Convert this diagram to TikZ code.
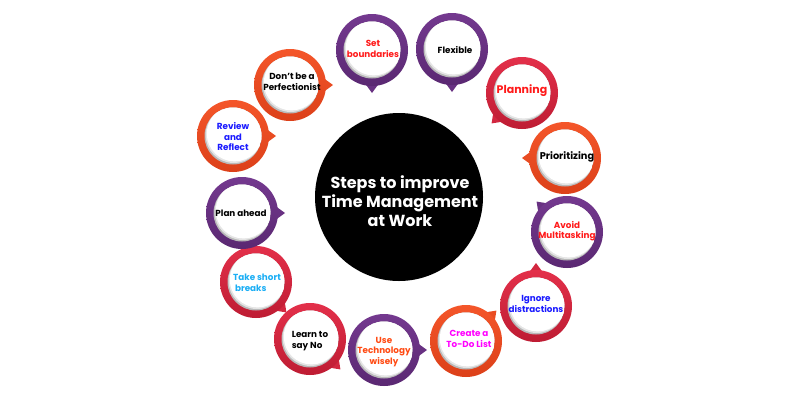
\documentclass[tikz,border=0pt]{standalone}
\usepackage{fontspec}
\setmainfont{Poppins}
\usetikzlibrary{calc}
\definecolor{corange}{HTML}{F4562A}
\definecolor{corangeD}{HTML}{DC4019}
\definecolor{cpurple}{HTML}{74398F}
\definecolor{cpurpleD}{HTML}{5A2872}
\definecolor{cred}{HTML}{E3304A}
\definecolor{credD}{HTML}{BE1C33}
\definecolor{tred}{HTML}{FF1A1A}
\definecolor{tblue}{HTML}{1A1AFF}
\definecolor{tmag}{HTML}{FF00FF}
\definecolor{tor}{HTML}{FF4A12}
\definecolor{tsky}{HTML}{1AAEF5}
\newcommand\mybubble[4]{%
  \coordinate (#1) at (#2);
  \fill[#3!55!#3D] ($(#1)+(#4-14:33)$) -- ($(#1)+(#4:43)$) -- ($(#1)+(#4+14:33)$) -- cycle;
  \shade[top color=#3, bottom color=#3D] (#1) circle[radius=36];
  \fill[gray!55] (#1) circle[radius=28.5];
  \begin{scope}
    \clip (#1) circle[radius=28.5];
    \fill[gray!20] ($(#1)+(0.8,-1.2)$) circle[radius=28.2];
    \fill[white] ($(#1)+(1.6,-2.4)$) circle[radius=27.8];
  \end{scope}
}
\tikzset{
  lbl/.style={align=center, inner sep=0pt, font=\bfseries\fontsize{8.8}{10.5}\selectfont},
  lblbig/.style={lbl, font=\bfseries\fontsize{11}{13}\selectfont},
  lblmid/.style={lbl, font=\bfseries\fontsize{9.8}{12}\selectfont},
  hub/.style={align=center, inner sep=0pt, text=white, font=\bfseries\fontsize{16}{19}\selectfont}
}
\begin{document}
\begin{tikzpicture}[x=1pt,y=-1pt]
\fill[white] (0,0) rectangle (800,400);
\useasboundingbox (0,0) rectangle (800,400);
% centre
\coordinate (cc) at (399,197);
\fill[black] (cc) circle[radius=84];
\node[hub] (hubtext) at (400,201) {Steps to improve\\Time Management\\at Work};
% bubbles
\mybubble{perf}{290,85}{corange}{0}
\mybubble{setb}{372,50}{cpurple}{90}
\mybubble{flex}{452,49}{cpurple}{90}
\mybubble{plan}{522,93}{cred}{135}
\mybubble{prio}{565,158}{corange}{180}
\mybubble{avoid}{567,232}{cpurple}{225}
\mybubble{ign}{536,306}{cred}{270}
\mybubble{todo}{466,341}{corange}{315}
\mybubble{tech}{384,350}{cpurple}{0}
\mybubble{sayno}{310,339}{cred}{45}
\mybubble{brk}{256,282}{cred}{45}
\mybubble{pa}{242,213}{cpurple}{0}
\mybubble{rev}{233,136}{corange}{0}
% labels
\node[lbl] (tperf) at (292,82) {Don’t be a\\Perfectionist};
\node[lbl, text=tred] (tset) at (373,49) {Set\\boundaries};
\node[lbl] (tflex) at (455,50) {Flexible};
\node[lblbig, text=tred] (tplan) at (522,91) {Planning};
\node[lblmid] (tprio) at (567,157) {Prioritizing};
\node[lbl, text=tred] (tavoid) at (567,231) {Avoid\\Multitasking};
\node[lbl, text=tblue] (tign) at (536,304) {Ignore\\distractions};
\node[lbl, text=tmag] (ttodo) at (469,339) {Create a\\To-Do List};
\node[lbl, text=tor] (ttech) at (384,352) {Use\\Technology\\wisely};
\node[lbl, align=left] (tno) at (310,341) {Learn to\\say No};
\node[lbl, align=left, text=tsky] (tbrk) at (257,283) {Take short\\\ breaks};
\node[lbl] (tpa) at (241,213) {Plan ahead};
\node[lbl, text=tblue] (trev) at (233,137) {Review\\and\\Reflect};
\end{tikzpicture}
\end{document}
